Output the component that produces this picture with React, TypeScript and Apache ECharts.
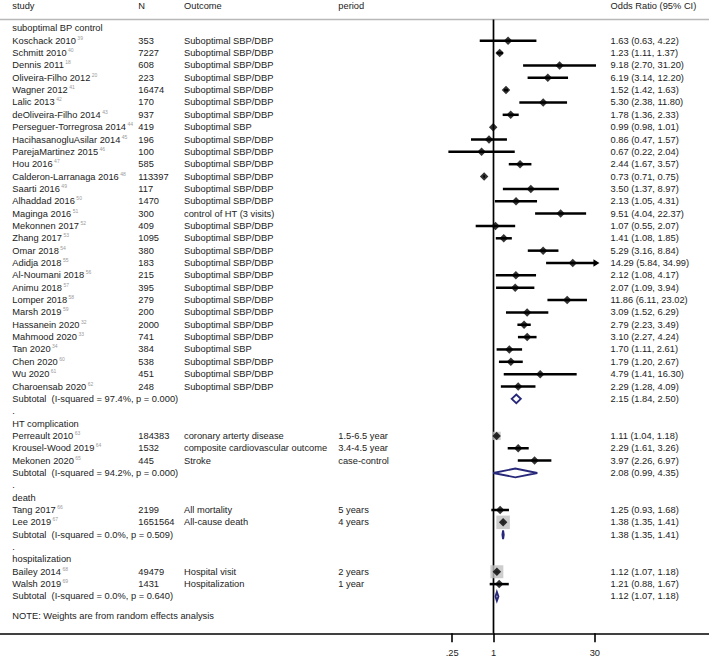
import React, { useEffect, useRef } from "react";
import * as echarts from "echarts";

// ---------- data ----------
const studyNames = [
  "Koschack 2010", "Schmitt 2010", "Dennis 2011", "Oliveira-Filho 2012", "Wagner 2012",
  "Lalic 2013", "deOliveira-Filho 2014", "Perseguer-Torregrosa 2014", "HacihasanogluAsilar 2014",
  "ParejaMartinez 2015", "Hou 2016", "Calderon-Larranaga 2016", "Saarti 2016", "Alhaddad 2016",
  "Maginga 2016", "Mekonnen 2017", "Zhang 2017", "Omar 2018", "Adidja 2018", "Al-Noumani 2018",
  "Animu 2018", "Lomper 2018", "Marsh 2019", "Hassanein 2020", "Mahmood 2020", "Tan 2020",
  "Chen 2020", "Wu 2020", "Charoensab 2020",
  "Perreault 2010", "Krousel-Wood 2019", "Mekonen 2020",
  "Tang 2017", "Lee 2019",
  "Bailey 2014", "Walsh 2019",
];
const studyRefs = [
  "39", "40", "18", "20", "41", "42", "43", "44", "45", "46", "47", "48", "49", "50", "51",
  "52", "53", "54", "55", "56", "57", "58", "59", "32", "33", "34", "60", "61", "62",
  "63", "64", "65", "66", "67", "68", "69",
];
const studyN = [
  "353", "7227", "608", "223", "16474", "170", "937", "419", "196", "100", "585", "113397",
  "117", "1470", "300", "409", "1095", "380", "183", "215", "395", "279", "200", "2000", "741",
  "384", "538", "451", "248",
  "184383", "1532", "445",
  "2199", "1651564",
  "49479", "1431",
];
const SUB = "Suboptimal SBP/DBP";
const studyOutcome = [
  SUB, SUB, SUB, SUB, SUB, SUB, SUB, "Suboptimal SBP", SUB, SUB, SUB, SUB, SUB, SUB,
  "control of HT (3 visits)", SUB, SUB, SUB, SUB, SUB, SUB, SUB, SUB, SUB, SUB,
  "Suboptimal SBP", SUB, SUB, SUB,
  "coronary arterty disease", "composite cardiovascular outcome", "Stroke",
  "All mortality", "All-cause death",
  "Hospital visit", "Hospitalization",
];
const studyPeriod = [
  "", "", "", "", "", "", "", "", "", "", "", "", "", "", "", "", "", "", "", "", "", "", "", "",
  "", "", "", "", "",
  "1.5-6.5 year", "3.4-4.5 year", "case-control",
  "5 years", "4 years",
  "2 years", "1 year",
];
const studyOR = [
  1.63, 1.23, 9.18, 6.19, 1.52, 5.3, 1.78, 0.99, 0.86, 0.67, 2.44, 0.73, 3.5, 2.13, 9.51,
  1.07, 1.41, 5.29, 14.29, 2.12, 2.07, 11.86, 3.09, 2.79, 3.1, 1.7, 1.79, 4.79, 2.29,
  1.11, 2.29, 3.97,
  1.25, 1.38,
  1.12, 1.21,
];
const studyLo = [
  0.63, 1.11, 2.7, 3.14, 1.42, 2.38, 1.36, 0.98, 0.47, 0.22, 1.67, 0.71, 1.37, 1.05, 4.04,
  0.55, 1.08, 3.16, 5.84, 1.08, 1.09, 6.11, 1.52, 2.23, 2.27, 1.11, 1.2, 1.41, 1.28,
  1.04, 1.61, 2.26,
  0.93, 1.35,
  1.07, 0.88,
];
const studyHi = [
  4.22, 1.37, 31.2, 12.2, 1.63, 11.8, 2.33, 1.01, 1.57, 2.04, 3.57, 0.75, 8.97, 4.31, 22.37,
  2.07, 1.85, 8.84, 34.99, 4.17, 3.94, 23.02, 6.29, 3.49, 4.24, 2.61, 2.67, 16.3, 4.09,
  1.18, 3.26, 6.97,
  1.68, 1.41,
  1.18, 1.67,
];
// relative weight (%) only where the weight box is visible behind the marker
const studyWeight: (number | null)[] = [
  null, null, null, null, null, null, null, null, null, null, null, null, null, null, null,
  null, null, null, null, null, null, null, null, null, null, null, null, null, null,
  19, null, null,
  null, 50,
  46, null,
];

const groupNames = ["suboptimal BP control", "HT complication", "death", "hospitalization"];
const groupSizes = [29, 3, 2, 2];
const subtotalOR = [2.15, 2.08, 1.38, 1.12];
const subtotalLo = [1.84, 0.99, 1.35, 1.07];
const subtotalHi = [2.5, 4.35, 1.41, 1.18];
const subtotalI2 = ["97.4%", "94.2%", "0.0%", "0.0%"];
const subtotalP = ["0.000", "0.000", "0.509", "0.640"];

const headers = ["study", "N", "Outcome", "period", "Odds Ratio (95% CI)"];
const tickValues = [0.25, 1, 30];
const tickLabels = [".25", "1", "30"];
const noteText = "NOTE: Weights are from random effects analysis";

// ---------- layout ----------
const W = 709;
const H = 659;
const FONT = '"Liberation Sans", Arial, Helvetica, sans-serif';
const FS = 9.3;
const TEXT = "#222222";
const NAVY = "#28287a";
const COLX = [12.3, 138.3, 184, 338.3, 610.5];
const ORIGIN_X = 493.5;
const PX_PER_LN = 29.8;
const ROW0_Y = 28.35;
const ROW_H = 12.35;
const GRID_TOP = 19.5;
const AXIS_Y = 633.3;
const NOTE_ROW = 47.58;
const CLIP_MAX = 32;

const X_MIN = -ORIGIN_X / PX_PER_LN;
const X_MAX = (W - ORIGIN_X) / PX_PER_LN;
const Y_MIN = (GRID_TOP - ROW0_Y) / ROW_H;
const Y_MAX = (AXIS_Y - ROW0_Y) / ROW_H;

const fmt = (v: number) => v.toFixed(2);

export default function App() {
  const ref = useRef<HTMLDivElement>(null);

  useEffect(() => {
    const chart = echarts.init(ref.current!, null, { renderer: "svg" });

    type Cell = { x: number; text: string; rich?: boolean };
    const tableRows: { row: number; cells: Cell[] }[] = [];
    const ciData: number[][] = [];
    const markerData: number[][] = [];
    const boxData: number[][] = [];
    const subData: number[][] = [];

    let r = 0;
    let s = 0;
    groupNames.forEach((g, gi) => {
      tableRows.push({ row: r, cells: [{ x: COLX[0], text: g }] });
      r++;
      for (let k = 0; k < groupSizes[gi]; k++) {
        tableRows.push({
          row: r,
          cells: [
            { x: COLX[0], text: `{n|${studyNames[s]}}{s|${studyRefs[s]}}`, rich: true },
            { x: COLX[1], text: studyN[s] },
            { x: COLX[2], text: studyOutcome[s] },
            { x: COLX[3], text: studyPeriod[s] },
            { x: COLX[4], text: `${fmt(studyOR[s])} (${fmt(studyLo[s])}, ${fmt(studyHi[s])})` },
          ],
        });
        ciData.push([Math.log(studyLo[s]), Math.log(studyHi[s]), r, studyHi[s] > CLIP_MAX ? 1 : 0]);
        markerData.push([Math.log(studyOR[s]), r]);
        const w = studyWeight[s];
        if (w != null) boxData.push([Math.log(studyOR[s]), r, w]);
        s++;
        r++;
      }
      tableRows.push({
        row: r,
        cells: [
          { x: COLX[0], text: `Subtotal  (I-squared = ${subtotalI2[gi]}, p = ${subtotalP[gi]})` },
          { x: COLX[4], text: `${fmt(subtotalOR[gi])} (${fmt(subtotalLo[gi])}, ${fmt(subtotalHi[gi])})` },
        ],
      });
      subData.push([Math.log(subtotalLo[gi]), Math.log(subtotalOR[gi]), Math.log(subtotalHi[gi]), r]);
      r++;
      if (gi < groupNames.length - 1) {
        tableRows.push({ row: r, cells: [{ x: COLX[0], text: "." }] });
        r++;
      }
    });
    tableRows.push({ row: NOTE_ROW, cells: [{ x: COLX[0], text: noteText }] });

    const maxW = Math.max(...(studyWeight.filter((v) => v != null) as number[]));
    const boxSize = (w: number) => 13.5 * Math.sqrt(w / maxW);

    const textStyleBase = { fontSize: FS, fontFamily: FONT, fill: TEXT };

    const option: any = {
      animation: false,
      backgroundColor: "#ffffff",
      grid: { left: 0, right: 0, top: GRID_TOP, bottom: H - AXIS_Y, containLabel: false },
      xAxis: {
        type: "value",
        min: X_MIN,
        max: X_MAX,
        axisLine: { show: true, onZero: false, lineStyle: { color: "#000", width: 1.6 } },
        axisTick: {
          show: true,
          inside: false,
          length: 9,
          customValues: tickValues.map((v) => Math.log(v)),
          lineStyle: { color: "#000", width: 1.6 },
        },
        axisLabel: {
          show: true,
          customValues: tickValues.map((v) => Math.log(v)),
          formatter: (v: number) => {
            let best = 0;
            tickValues.forEach((t, i) => {
              if (Math.abs(Math.log(t) - v) < Math.abs(Math.log(tickValues[best]) - v)) best = i;
            });
            return tickLabels[best];
          },
          margin: 15,
          color: TEXT,
          fontSize: FS,
          fontFamily: FONT,
        },
        splitLine: { show: false },
      },
      yAxis: {
        type: "value",
        min: Y_MIN,
        max: Y_MAX,
        inverse: true,
        show: false,
        splitLine: { show: false },
      },
      graphic: [
        {
          type: "line",
          shape: { x1: 0, y1: GRID_TOP, x2: W, y2: GRID_TOP },
          style: { stroke: "#b8b8b8", lineWidth: 1.5 },
          z: 1,
        },
        ...headers.map((h, i) => ({
          type: "text",
          x: COLX[i],
          y: 5.5,
          style: { text: h, ...textStyleBase, verticalAlign: "middle", align: "left" },
        })),
      ],
      series: [
        {
          type: "line",
          data: [
            [0, Y_MIN],
            [0, Y_MAX],
          ],
          symbol: "none",
          lineStyle: { color: "#000", width: 1.7 },
          silent: true,
          z: 1,
        },
        {
          type: "custom",
          z: 2,
          silent: true,
          data: ciData,
          renderItem: (params: any, api: any) => {
            const p1 = api.coord([api.value(0), api.value(2)]);
            const p2 = api.coord([api.value(1), api.value(2)]);
            const arrow = api.value(3) === 1;
            const children: any[] = [
              {
                type: "line",
                shape: { x1: p1[0], y1: p1[1], x2: arrow ? p2[0] - 4 : p2[0], y2: p2[1] },
                style: { stroke: "#000", lineWidth: 2.5 },
              },
            ];
            if (arrow) {
              children.push({
                type: "polygon",
                shape: {
                  points: [
                    [p2[0], p2[1]],
                    [p2[0] - 6, p2[1] - 3.8],
                    [p2[0] - 6, p2[1] + 3.8],
                  ],
                },
                style: { fill: "#000" },
              });
            }
            return { type: "group", children };
          },
        },
        {
          type: "scatter",
          z: 3,
          silent: true,
          data: boxData,
          symbol: "rect",
          symbolSize: (val: number[]) => boxSize(val[2]),
          itemStyle: { color: "#c0c0c0" },
        },
        {
          type: "scatter",
          z: 4,
          silent: true,
          data: markerData,
          symbol: "diamond",
          symbolSize: 8.5,
          itemStyle: { color: "#000" },
        },
        {
          type: "custom",
          z: 4,
          silent: true,
          data: subData,
          renderItem: (params: any, api: any) => {
            const row = api.value(3);
            const a = api.coord([api.value(0), row]);
            const m = api.coord([api.value(1), row]);
            const b = api.coord([api.value(2), row]);
            const h = 4.4;
            return {
              type: "polygon",
              shape: {
                points: [
                  [a[0], a[1]],
                  [m[0], m[1] - h],
                  [b[0], b[1]],
                  [m[0], m[1] + h],
                ],
              },
              style: { fill: "none", stroke: NAVY, lineWidth: 1.9 },
            };
          },
        },
        {
          type: "custom",
          z: 5,
          silent: true,
          data: tableRows.map((t) => [0, t.row]),
          renderItem: (params: any, api: any) => {
            const t = tableRows[params.dataIndex];
            const y = api.coord([0, t.row])[1];
            return {
              type: "group",
              children: t.cells
                .filter((c) => c.text !== "")
                .map((c) => ({
                  type: "text",
                  x: c.x,
                  y,
                  style: c.rich
                    ? {
                        text: c.text,
                        ...textStyleBase,
                        verticalAlign: "middle",
                        align: "left",
                        rich: {
                          n: { fontSize: FS, fontFamily: FONT, fill: TEXT, lineHeight: 11 },
                          s: {
                            fontSize: 5,
                            fontFamily: FONT,
                            fill: "#9a9a9a",
                            lineHeight: 6,
                            verticalAlign: "top",
                            padding: [0, 0, 0, 1.5],
                          },
                        },
                      }
                    : { text: c.text, ...textStyleBase, verticalAlign: "middle", align: "left" },
                })),
            };
          },
        },
      ],
    };

    chart.setOption(option);
    return () => chart.dispose();
  }, []);

  return (
    <div
      ref={ref}
      style={{ position: "absolute", left: 0, top: 0, width: W, height: H, background: "#fff" }}
    />
  );
}
